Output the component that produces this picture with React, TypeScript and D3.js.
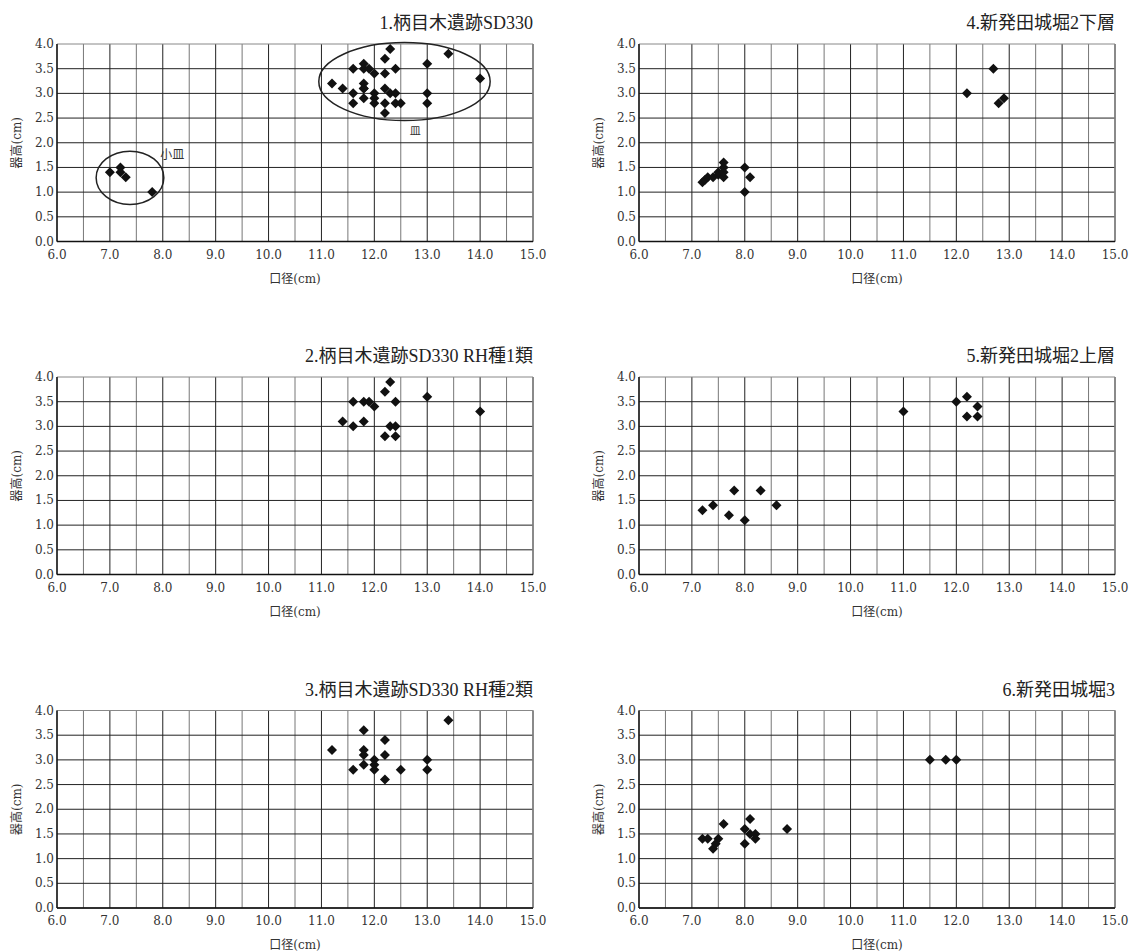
import React from 'react';
import * as d3 from 'd3';

type Pt = [number, number];

const xTickValues = [6, 7, 8, 9, 10, 11, 12, 13, 14, 15];
const yTickValues = [0, 0.5, 1, 1.5, 2, 2.5, 3, 3.5, 4];
const xGridValues = d3.range(6, 15.001, 0.5);
const yGridValues = d3.range(0, 4.001, 0.5);

const panelTitles = [
  '1.柄目木遺跡SD330',
  '2.柄目木遺跡SD330 RH種1類',
  '3.柄目木遺跡SD330 RH種2類',
  '4.新発田城堀2下層',
  '5.新発田城堀2上層',
  '6.新発田城堀3',
];

const xAxisTitle = '口径(cm)';
const yAxisTitle = '器高(cm)';

// 柄目木遺跡 small dishes
const smallDish: Pt[] = [
  [7.0, 1.4], [7.2, 1.5], [7.2, 1.4], [7.3, 1.3], [7.8, 1.0],
];

// RH種1類
const rh1: Pt[] = [
  [12.3, 3.9], [12.2, 3.7], [11.6, 3.5], [11.8, 3.5], [11.9, 3.5], [12.0, 3.4],
  [12.4, 3.5], [13.0, 3.6], [14.0, 3.3], [11.4, 3.1], [11.6, 3.0], [11.8, 3.1],
  [12.3, 3.0], [12.4, 3.0], [12.2, 2.8], [12.4, 2.8],
];

// RH種2類
const rh2: Pt[] = [
  [13.4, 3.8], [11.8, 3.6], [12.2, 3.4], [11.2, 3.2], [11.8, 3.2], [11.8, 3.1],
  [12.2, 3.1], [12.0, 3.0], [12.0, 2.9], [11.8, 2.9], [13.0, 3.0], [11.6, 2.8],
  [12.0, 2.8], [12.5, 2.8], [13.0, 2.8], [12.2, 2.6],
];

const shibata2Lower: Pt[] = [
  [12.7, 3.5], [12.2, 3.0], [12.8, 2.8], [12.9, 2.9],
  [7.2, 1.2], [7.25, 1.25], [7.3, 1.3], [7.4, 1.3], [7.5, 1.35], [7.5, 1.4],
  [7.6, 1.3], [7.6, 1.4], [7.6, 1.5], [7.6, 1.6],
  [8.0, 1.5], [8.1, 1.3], [8.0, 1.0],
];

const shibata2Upper: Pt[] = [
  [11.0, 3.3], [12.0, 3.5], [12.2, 3.6], [12.4, 3.4], [12.2, 3.2], [12.4, 3.2],
  [7.2, 1.3], [7.4, 1.4], [7.8, 1.7], [8.3, 1.7], [7.7, 1.2], [8.0, 1.1], [8.6, 1.4],
];

const shibata3: Pt[] = [
  [11.5, 3.0], [11.8, 3.0], [12.0, 3.0],
  [7.2, 1.4], [7.3, 1.4], [7.5, 1.4], [7.4, 1.2], [7.45, 1.3], [7.6, 1.7],
  [8.1, 1.8], [8.0, 1.6], [8.1, 1.5], [8.2, 1.4], [8.2, 1.5], [8.0, 1.3], [8.8, 1.6],
];

// ellipse annotations for panel 1: [cx, cy, rx, ry]
const smallDishEllipse = [7.38, 1.29, 0.64, 0.54];
const dishEllipse = [12.57, 3.24, 1.62, 0.79];
const smallDishLabel = { text: '小皿', x: 7.95, y: 1.75 };
const dishLabel = { text: '皿', x: 12.67, y: 2.22 };

const panelData: Pt[][] = [
  [...smallDish, ...rh1, ...rh2],
  rh1,
  rh2,
  shibata2Lower,
  shibata2Upper,
  shibata3,
];

const TITLE_FONT = "'Liberation Serif', 'Noto Sans CJK JP', serif";
const TICK_FONT = "'DejaVu Serif', 'Noto Sans CJK JP', serif";

const colLeft = [57, 639];
const rowTop = [44, 377, 710.5];
const plotW = 476;
const plotH = 197.5;

const diamond = d3.symbol().type(d3.symbolSquare).size(50)();

function Panel({ idx }: { idx: number }) {
  const col = idx < 3 ? 0 : 1;
  const row = idx % 3;
  const x0 = colLeft[col];
  const y0 = rowTop[row];
  const x = d3.scaleLinear().domain([6, 15]).range([x0, x0 + plotW]);
  const y = d3.scaleLinear().domain([0, 4]).range([y0 + plotH, y0]);
  const data = panelData[idx];
  const fmt = d3.format('.1f');
  return (
    <g>
      {xGridValues.map((v) => (
        <line
          key={'vx' + v}
          x1={x(v)}
          x2={x(v)}
          y1={y(0)}
          y2={y(4)}
          stroke={Number.isInteger(v) ? '#222' : '#777'}
          strokeWidth={1}
        />
      ))}
      {yGridValues.map((v) => (
        <line
          key={'hy' + v}
          x1={x(6)}
          x2={x(15)}
          y1={y(v)}
          y2={y(v)}
          stroke={v === 4 ? '#888' : '#222'}
          strokeWidth={1}
        />
      ))}
      <line x1={x(15)} x2={x(15)} y1={y(0)} y2={y(4)} stroke="#888" strokeWidth={1.5} />
      <line x1={x(6)} x2={x(6)} y1={y(0)} y2={y(4)} stroke="#111" strokeWidth={1.3} />
      <line x1={x(6)} x2={x(15)} y1={y(0)} y2={y(0)} stroke="#111" strokeWidth={1.3} />
      {yTickValues.map((v) => (
        <text
          key={'yt' + v}
          x={x0 - 3}
          y={y(v)}
          textAnchor="end"
          dominantBaseline="central"
          style={{ fontFamily: TICK_FONT, fontSize: 12 }}
          fill="#333"
        >
          {fmt(v)}
        </text>
      ))}
      {xTickValues.map((v) => (
        <text
          key={'xt' + v}
          x={x(v)}
          y={y(0) + 13}
          textAnchor="middle"
          dominantBaseline="central"
          style={{ fontFamily: TICK_FONT, fontSize: 12 }}
          fill="#333"
        >
          {fmt(v)}
        </text>
      ))}
      <text
        x={(x(6) + x(15)) / 2}
        y={y(0) + 37}
        textAnchor="middle"
        dominantBaseline="central"
        style={{ fontFamily: TICK_FONT, fontSize: 12 }}
        fill="#333"
      >
        {xAxisTitle}
      </text>
      <text
        transform={`translate(${x0 - 40},${(y(0) + y(4)) / 2}) rotate(-90)`}
        textAnchor="middle"
        dominantBaseline="central"
        style={{ fontFamily: TICK_FONT, fontSize: 12 }}
        fill="#333"
      >
        {yAxisTitle}
      </text>
      <text
        x={x(15)}
        y={y0 - 15}
        textAnchor="end"
        style={{ fontFamily: TITLE_FONT, fontSize: 18 }}
        fill="#222"
      >
        {panelTitles[idx]}
      </text>
      {data.map((d, i) => (
        <path
          key={'p' + i}
          d={diamond as string}
          transform={`translate(${x(d[0])},${y(d[1])}) rotate(45)`}
          fill="#111"
        />
      ))}
      {idx === 0 && (
        <g>
          {[smallDishEllipse, dishEllipse].map((e, i) => (
            <ellipse
              key={'e' + i}
              cx={x(e[0])}
              cy={y(e[1])}
              rx={x(6 + e[2]) - x(6)}
              ry={y(0) - y(e[3])}
              fill="none"
              stroke="#222"
              strokeWidth={1.5}
            />
          ))}
          <text
            x={x(smallDishLabel.x)}
            y={y(smallDishLabel.y)}
            dominantBaseline="central"
            style={{ fontFamily: TICK_FONT, fontSize: 12 }}
            fill="#333"
          >
            {smallDishLabel.text}
          </text>
          <text
            x={x(dishLabel.x)}
            y={y(dishLabel.y)}
            dominantBaseline="central"
            style={{ fontFamily: TICK_FONT, fontSize: 11 }}
            fill="#333"
          >
            {dishLabel.text}
          </text>
        </g>
      )}
    </g>
  );
}

export default function App() {
  return (
    <svg
      width={1137}
      height={952}
      style={{ position: 'absolute', left: 0, top: 0, background: '#fff' }}
    >
      <rect x={0} y={0} width={1137} height={952} fill="#fff" />
      {panelTitles.map((_, i) => (
        <Panel key={i} idx={i} />
      ))}
    </svg>
  );
}
